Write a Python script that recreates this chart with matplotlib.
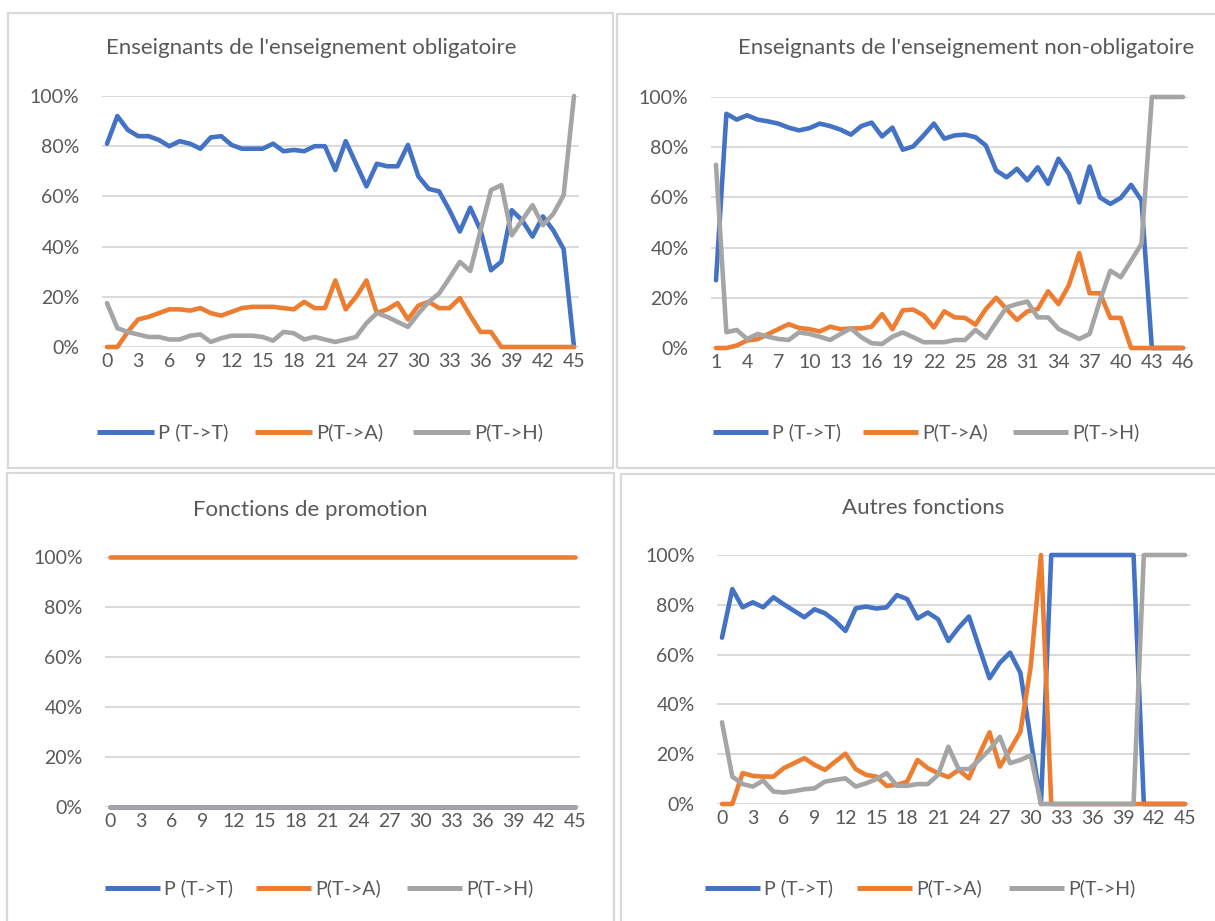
import matplotlib
matplotlib.use("Agg")
import matplotlib.pyplot as plt
from matplotlib.lines import Line2D
from matplotlib.patches import Rectangle

plt.rcParams['font.family'] = ['Lato', 'DejaVu Sans']

W, H = 1215, 921
BLUE, ORANGE, GREY = '#4472C4', '#ED7D31', '#A5A5A5'
TXT, GRID = '#595959', '#D9D9D9'

series_names = ['P (T->T)', 'P(T->A)', 'P(T->H)']

# ---------------- data ----------------
titles = ["Enseignants de l'enseignement obligatoire",
          "Enseignants de l'enseignement non-obligatoire",
          "Fonctions de promotion",
          "Autres fonctions"]

x_obl = list(range(0, 46))
x_nonobl = list(range(1, 47))
x_promo = list(range(0, 46))
x_autres = list(range(0, 46))

tt_obl = [81, 92, 86.5, 84, 84, 82.5, 80, 82, 81, 79,
          83.5, 84, 80.5, 79, 79, 79, 81, 78, 78.5, 78,
          80, 80, 70.5, 82, 73, 64, 73, 72, 72, 80.5,
          68, 63, 62, 54.5, 46, 55.5, 46.5, 30.6, 34, 54.5,
          50.5, 44, 52, 46.5, 39, 0]
ta_obl = [0, 0, 6, 11, 12, 13.5, 15, 15, 14.5, 15.5,
          13.5, 12.5, 14, 15.5, 16, 16, 16, 15.5, 15, 18,
          15.5, 15.5, 26.5, 15, 20, 26.5, 13.5, 15, 17.5, 11,
          16.5, 18, 15.5, 15.5, 19.5, 12.5, 6, 6, 0, 0,
          0, 0, 0, 0, 0, 0]
th_obl = [17.5, 7.5, 6, 5, 4, 4, 3, 3, 4.5, 5,
          2, 3.5, 4.5, 4.5, 4.5, 4, 2.5, 6, 5.5, 3,
          4, 3, 2, 3, 4, 9.5, 13.5, 12, 10, 8,
          13.3, 18, 21.3, 27.5, 33.9, 30.3, 46.5, 62.5, 64.5, 44.5,
          50.5, 56.5, 48.5, 53, 60.5, 100]

tt_nonobl = [27, 93.3, 91, 92.7, 91, 90.3, 89.4, 87.8, 86.7, 87.6,
             89.4, 88.4, 87, 85, 88.4, 89.8, 84.3, 87.8, 79, 80.3,
             84.7, 89.4, 83.4, 84.7, 85, 84, 80.7, 70.7, 68, 71.4,
             66.8, 72, 65.4, 75.4, 69.4, 58, 72.3, 60, 57.4, 59.8,
             65, 58.8, 0, 0, 0, 0]
ta_nonobl = [0, 0, 1, 3, 3.5, 5.5, 7.5, 9.5, 8, 7.5,
             6.6, 8.5, 7.5, 7.8, 7.8, 8.5, 13.5, 7.5, 15, 15.3,
             13, 8.2, 14.6, 12.2, 12, 9.3, 15.5, 20, 15.5, 11.2,
             14.6, 15.5, 22.6, 17.5, 25, 37.8, 21.8, 21.8, 12, 12,
             0, 0, 0, 0, 0, 0]
th_nonobl = [73, 6.3, 7.2, 3.6, 5.6, 4.5, 3.6, 3.2, 6.2, 5.6,
             4.5, 3.2, 5.6, 7.8, 4.3, 1.9, 1.6, 4.5, 6.2, 4.3,
             2.3, 2.3, 2.3, 3.2, 3.2, 7.2, 4, 10.2, 16.2, 17.5,
             18.5, 12.2, 12.2, 7.6, 5.6, 3.6, 5.6, 19, 30.8, 28.2,
             34.8, 41.5, 100, 100, 100, 100]

tt_promo = [0, 0, 0, 0, 0, 0, 0, 0, 0, 0,
            0, 0, 0, 0, 0, 0, 0, 0, 0, 0,
            0, 0, 0, 0, 0, 0, 0, 0, 0, 0,
            0, 0, 0, 0, 0, 0, 0, 0, 0, 0,
            0, 0, 0, 0, 0, 0]
ta_promo = [100, 100, 100, 100, 100, 100, 100, 100, 100, 100,
            100, 100, 100, 100, 100, 100, 100, 100, 100, 100,
            100, 100, 100, 100, 100, 100, 100, 100, 100, 100,
            100, 100, 100, 100, 100, 100, 100, 100, 100, 100,
            100, 100, 100, 100, 100, 100]
th_promo = [0, 0, 0, 0, 0, 0, 0, 0, 0, 0,
            0, 0, 0, 0, 0, 0, 0, 0, 0, 0,
            0, 0, 0, 0, 0, 0, 0, 0, 0, 0,
            0, 0, 0, 0, 0, 0, 0, 0, 0, 0,
            0, 0, 0, 0, 0, 0]

tt_autres = [66.8, 86.3, 79, 81, 79, 83, 80.2, 77.6, 75, 78.2,
             76.6, 73.5, 69.5, 78.6, 79.3, 78.5, 79, 83.9, 82.3, 74.5,
             76.9, 74.2, 65.5, 70.8, 75.3, 62.8, 50.5, 56.7, 60.8, 52.7,
             26, 0, 100, 100, 100, 100, 100, 100, 100, 100,
             100, 0, 0, 0, 0, 0]
ta_autres = [0, 0, 12.4, 11.3, 11, 11, 14.4, 16.4, 18.4, 15.7,
             13.7, 17, 20.2, 14, 11.7, 11, 7.3, 7.7, 9, 17.7,
             14.4, 12.4, 10.8, 13.7, 10.3, 19.8, 28.8, 15, 21.8, 29,
             55, 100, 0, 0, 0, 0, 0, 0, 0, 0,
             0, 0, 0, 0, 0, 0]
th_autres = [32.8, 11, 8, 7, 9.4, 5, 4.6, 5.2, 5.9, 6.3,
             9, 9.7, 10.3, 7, 8.3, 10, 12.4, 7.3, 7.3, 8,
             8, 11.7, 23, 14, 14, 17.7, 21.8, 27, 16.4, 17.7,
             19.5, 0, 0, 0, 0, 0, 0, 0, 0, 0,
             0, 100, 100, 100, 100, 100]

y_ticks = [0, 20, 40, 60, 80, 100]
y_labels = ['0%', '20%', '40%', '60%', '80%', '100%']

# ---------------- layout (pixels) ----------------
fig = plt.figure(figsize=(W / 100, H / 100), dpi=100)
fig.patch.set_facecolor('white')

def fx(x):
    return x / W

def fy(y):
    return 1 - y / H

borders = [(8, 13, 613, 468), (617, 14, 1230, 468),
           (7, 473, 614, 935), (621, 474, 1230, 935)]
for (l, t, r, b) in borders:
    fig.add_artist(Rectangle((fx(l), fy(b)), (r - l) / W, (b - t) / H,
                             transform=fig.transFigure, fill=False,
                             edgecolor=GRID, lw=1.6))

panels = [
    dict(x=x_obl, s=(tt_obl, ta_obl, th_obl), first=(0, 107), last=(45, 574),
         ytop=96, ybot=347, title=titles[0], tpos=(311, 48), ticks=list(range(0, 46, 3)),
         leg=(97, 432), llen=57, step=158, lfs=14.5),
    dict(x=x_nonobl, s=(tt_nonobl, ta_nonobl, th_nonobl), first=(1, 716), last=(46, 1183),
         ytop=97, ybot=348, title=titles[1], tpos=(966, 48), ticks=list(range(1, 47, 3)),
         leg=(713, 432), llen=55, step=150, lfs=14),
    dict(x=x_promo, s=(tt_promo, ta_promo, th_promo), first=(0, 110), last=(45, 575),
         ytop=557, ybot=807, title=titles[2], tpos=(310, 510), ticks=list(range(0, 46, 3)),
         leg=(105, 888), llen=55, step=151, lfs=14),
    dict(x=x_autres, s=(tt_autres, ta_autres, th_autres), first=(0, 722), last=(45, 1185),
         ytop=555, ybot=804, title=titles[3], tpos=(923, 508), ticks=list(range(0, 46, 3)),
         leg=(705, 888), llen=55, step=152, lfs=14),
]

FS = 14

for p in panels:
    (i0, p0), (i1, p1) = p['first'], p['last']
    unit = (p1 - p0) / (i1 - i0)
    left = p0 - unit / 2
    right = p1 + unit / 2
    ax = fig.add_axes([fx(left), fy(p['ybot']), (right - left) / W,
                       (p['ybot'] - p['ytop']) / H])
    ax.set_xlim(i0 - 0.5, i1 + 0.5)
    ax.set_ylim(0, 100)
    for v, c in zip(p['s'], (BLUE, ORANGE, GREY)):
        ax.plot(p['x'], v, color=c, lw=3.3, solid_joinstyle='round',
                solid_capstyle='round', clip_on=False, zorder=3)
    for sp in ax.spines.values():
        sp.set_visible(False)
    ax.set_yticks(y_ticks)
    ax.set_yticklabels(y_labels)
    ax.set_xticks(p['ticks'])
    ax.set_xticklabels([str(t) for t in p['ticks']])
    ax.tick_params(length=0, colors=TXT, labelsize=FS)
    ax.tick_params(axis='y', pad=16)
    ax.tick_params(axis='x', pad=4)
    ax.grid(axis='y', color=GRID, lw=1.4, zorder=0)
    ax.set_axisbelow(True)
    ax.set_facecolor('none')
    fig.text(fx(p['tpos'][0]), fy(p['tpos'][1]), p['title'], ha='center',
             va='center', fontsize=16, color=TXT)
    # legend
    lx, ly = p['leg']
    for k, (name, c) in enumerate(zip(series_names, (BLUE, ORANGE, GREY))):
        x0 = lx + k * p['step']
        fig.add_artist(Line2D([fx(x0), fx(x0 + p['llen'])], [fy(ly), fy(ly)],
                              transform=fig.transFigure, color=c, lw=3.6,
                              solid_capstyle='butt'))
        fig.text(fx(x0 + p['llen'] + 4), fy(ly), name, ha='left', va='center',
                 fontsize=p['lfs'], color=TXT)

fig.savefig('out.png', dpi=100, facecolor='white')
